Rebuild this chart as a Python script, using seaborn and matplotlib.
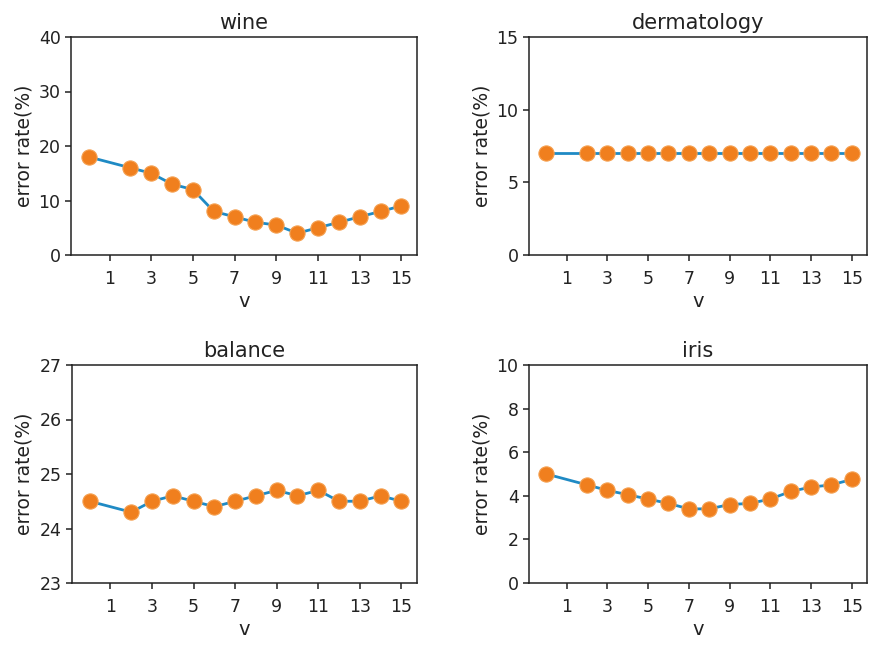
import matplotlib
matplotlib.use("Agg")
import matplotlib.pyplot as plt
import seaborn as sns
import pandas as pd

sns.set_style("ticks")
plt.rcParams["font.family"] = ["DejaVu Sans"]
plt.rcParams["axes.edgecolor"] = "#222222"
plt.rcParams["axes.linewidth"] = 1.1

# data
v = [0, 2, 3, 4, 5, 6, 7, 8, 9, 10, 11, 12, 13, 14, 15]
wine = [18, 16, 15, 13, 12, 8, 7, 6, 5.5, 4, 5, 6, 7, 8, 9]
dermatology = [7, 7, 7, 7, 7, 7, 7, 7, 7, 7, 7, 7, 7, 7, 7]
balance = [24.5, 24.3, 24.5, 24.6, 24.5, 24.4, 24.5, 24.6, 24.7, 24.6, 24.7, 24.5, 24.5, 24.6, 24.5]
iris = [5.0, 4.5, 4.25, 4.05, 3.85, 3.65, 3.4, 3.4, 3.6, 3.65, 3.85, 4.2, 4.4, 4.5, 4.75]
xticks = [1, 3, 5, 7, 9, 11, 13, 15]

panels = [
    ("wine", wine, (0, 40), [0, 10, 20, 30, 40]),
    ("dermatology", dermatology, (0, 15), [0, 5, 10, 15]),
    ("balance", balance, (23, 27), [23, 24, 25, 26, 27]),
    ("iris", iris, (0, 10), [0, 2, 4, 6, 8, 10]),
]

W, H = 869, 645
fig = plt.figure(figsize=(W / 100, H / 100), dpi=100)
boxes = [(71, 37, 417, 255), (529, 37, 867, 255),
         (72, 365, 417, 583), (529, 365, 867, 583)]

for (name, vals, ylim, yt), (l, t, r, b) in zip(panels, boxes):
    ax = fig.add_axes([l / W, 1 - b / H, (r - l) / W, (b - t) / H])
    df = pd.DataFrame({"v": v, "err": vals})
    sns.lineplot(data=df, x="v", y="err", ax=ax, color="#1f8ac4", linewidth=2)
    sns.scatterplot(data=df, x="v", y="err", ax=ax, color="#f07f1e", s=120,
                    edgecolor="#f5a050", linewidth=0.8, zorder=3)
    ax.set_ylim(*ylim)
    ax.set_yticks(yt)
    ax.set_xticks(xticks)
    ax.set_xlim(-0.85, 15.75)
    ax.set_title(name, fontsize=15, color="#222222")
    ax.set_xlabel("v", fontsize=14, color="#222222", labelpad=3)
    ax.set_ylabel("error rate(%)", fontsize=13.5, color="#222222")
    ax.tick_params(labelsize=12.5, colors="#222222", width=1.1, length=4)
    ax.tick_params(axis="x", pad=7)

fig.savefig("out.png", dpi=100)
